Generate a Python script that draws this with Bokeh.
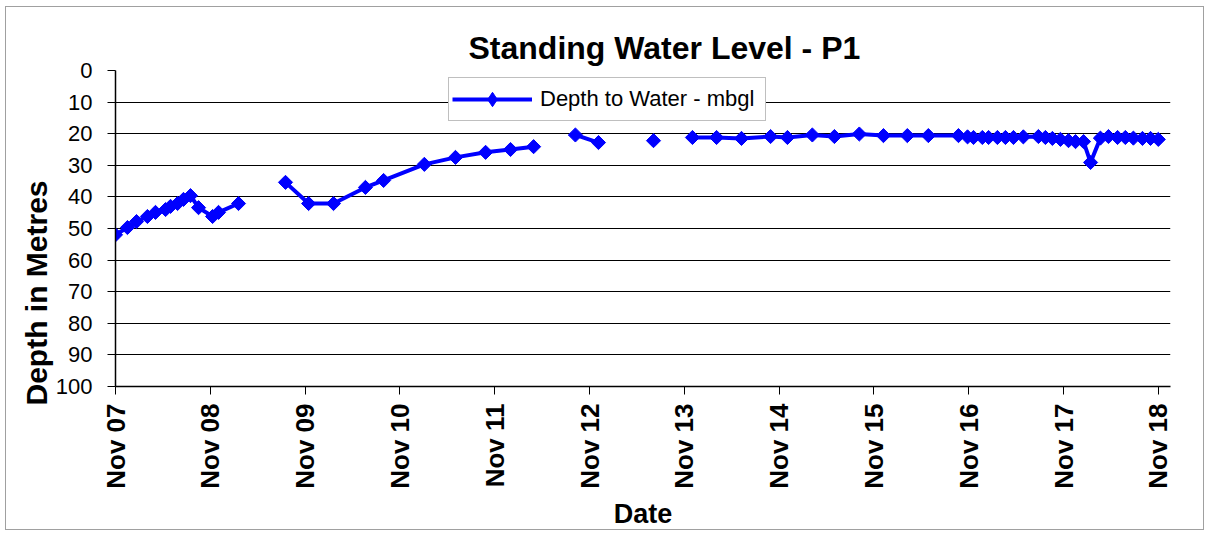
import numpy as np
import pandas as pd
from bokeh.plotting import figure
from bokeh.models import (Range1d, FixedTicker, DatetimeTickFormatter, Legend,
                          LegendItem, ColumnDataSource, Title)
from bokeh.embed import file_html
from bokeh.resources import INLINE

# ---------------- data ----------------
dates = [
    "2007-11-01", "2007-12-17", "2008-01-21", "2008-03-03", "2008-04-03",
    "2008-05-12", "2008-05-31", "2008-06-27", "2008-07-20", "2008-08-16",
    "2008-09-16", "2008-11-09", "2008-12-02", "2009-02-17",
    "2009-08-17", "2009-11-14", "2010-02-18", "2010-06-21", "2010-08-30",
    "2011-02-03", "2011-06-03", "2011-09-27", "2012-01-01", "2012-03-30",
    "2012-09-07", "2012-12-05",
    "2013-07-05",
    "2013-12-02", "2014-03-05", "2014-06-09", "2014-09-29", "2014-12-03",
    "2015-03-09", "2015-06-02", "2015-09-06", "2015-12-08", "2016-03-09",
    "2016-05-29", "2016-09-22", "2016-10-27", "2016-11-19", "2016-12-23",
    "2017-01-16", "2017-02-19", "2017-03-22", "2017-04-22", "2017-05-30",
    "2017-07-27", "2017-08-23", "2017-09-19", "2017-10-20", "2017-11-20",
    "2017-12-17", "2018-01-17", "2018-02-13", "2018-03-23", "2018-04-23",
    "2018-05-28", "2018-06-27", "2018-07-28", "2018-09-01", "2018-10-02",
    "2018-11-01",
]
depth = [
    52.0, 49.7, 47.8, 46.2, 44.9,
    44.0, 43.0, 42.1, 40.8, 39.6,
    43.4, 46.2, 44.9, 42.1,
    35.4, 42.1, 42.1, 37.0, 34.8,
    29.7, 27.5, 25.9, 25.0, 24.1,
    20.4, 22.8,
    22.2,
    21.2, 21.2, 21.5, 20.9, 21.2,
    20.4, 20.9, 20.1, 20.6, 20.6,
    20.6, 20.6, 21.0, 21.2, 21.2,
    21.2, 21.2, 21.2, 21.2, 21.0,
    20.9, 21.2, 21.5, 21.8, 22.2,
    22.5, 22.5, 29.1, 21.4, 20.9,
    21.2, 21.2, 21.4, 21.5, 21.5,
    21.8,
]
# readings after which the record has a gap (line is broken)
gap_after = ["2009-02-17", "2012-03-30", "2012-12-05", "2013-07-05"]

tick_years = list(range(2007, 2019))
y_ticks = [0, 10, 20, 30, 40, 50, 60, 70, 80, 90, 100]
series_name = "Depth to Water - mbgl"

# ---------------- build sources ----------------
x_pts = pd.to_datetime(dates)
line_x, line_y = [], []
for d, v in zip(x_pts, depth):
    line_x.append(d)
    line_y.append(v)
    if d.strftime("%Y-%m-%d") in gap_after:
        line_x.append(d)
        line_y.append(np.nan)

src_line = ColumnDataSource(dict(x=line_x, y=line_y))
src_pts = ColumnDataSource(dict(x=x_pts, y=depth))
# legend swatch source: a single undrawn (NaN) entry, only used for the key
src_key = ColumnDataSource(dict(x=[x_pts[0]], y=[np.nan]))

FONT = "Liberation Sans"

p = figure(width=1199, height=524, x_axis_type="datetime",
           x_range=Range1d(pd.Timestamp("2007-11-01"), pd.Timestamp("2018-12-18")),
           y_range=Range1d(100, 0),
           output_backend="svg", toolbar_location=None,
           min_border_left=109, min_border_right=35,
           min_border_top=63, min_border_bottom=145)
p.styles = {"border": "1px solid #a0a0a0", "margin-left": "5px", "margin-top": "6px"}
p.outline_line_color = None
p.background_fill_color = "white"

# title
p.title.text = "Standing Water Level - P1"
p.title.align = "left"
p.title.offset = 353
p.title.text_font = FONT
p.title.text_font_size = "32px"
p.title.text_font_style = "bold"
p.title.text_color = "black"
p.title.standoff = 10

# y-axis title (placed as a side title so it can sit low, as in the original)
ytitle = Title(text="Depth in Metres", align="left", offset=-19,
               text_font=FONT, text_font_size="30px", text_font_style="bold",
               text_color="black", standoff=0)
p.add_layout(ytitle, "left")

# grid
p.xgrid.visible = False
p.ygrid.grid_line_color = "black"
p.ygrid.grid_line_width = 1

# y axis
p.yaxis.ticker = FixedTicker(ticks=y_ticks)
p.yaxis.major_label_text_font = FONT
p.yaxis.major_label_text_font_size = "22px"
p.yaxis.major_label_text_color = "black"
p.yaxis.major_label_standoff = 15
p.yaxis.major_tick_in = 0
p.yaxis.major_tick_out = 8
p.yaxis.minor_tick_line_color = None
p.yaxis.axis_line_color = "black"
p.yaxis.axis_line_width = 1.5
p.yaxis.major_tick_line_color = "black"

# x axis
tick_ms = [pd.Timestamp(f"{y}-11-01").value / 1e6 for y in tick_years]
p.xaxis.ticker = FixedTicker(ticks=tick_ms)
fmt = "%b %y"
p.xaxis.formatter = DatetimeTickFormatter(
    microseconds=fmt, milliseconds=fmt, seconds=fmt, minsec=fmt, minutes=fmt,
    hourmin=fmt, hours=fmt, days=fmt, months=fmt, years=fmt)
p.xaxis.major_label_orientation = np.pi / 2
p.xaxis.axis_label = "Date"
p.xaxis.axis_label_text_font = FONT
p.xaxis.axis_label_text_font_size = "27px"
p.xaxis.axis_label_text_font_style = "bold"
p.xaxis.axis_label_text_color = "black"
p.xaxis.axis_label_standoff = 7
p.xaxis.major_label_text_font = FONT
p.xaxis.major_label_text_font_size = "26px"
p.xaxis.major_label_text_font_style = "bold"
p.xaxis.major_label_text_color = "black"
p.xaxis.major_label_standoff = 9
p.xaxis.major_tick_in = 0
p.xaxis.major_tick_out = 8
p.xaxis.minor_tick_line_color = None
p.xaxis.axis_line_color = "black"
p.xaxis.axis_line_width = 1.5
p.xaxis.major_tick_line_color = "black"

# series
r_line = p.line("x", "y", source=src_line, line_color="#0000FF", line_width=4)
r_pts = p.scatter("x", "y", source=src_pts, marker="square", angle=np.pi / 4,
                  size=10, fill_color="#0000FF", line_color="#0000FF")
r_key = p.scatter("x", "y", source=src_key, marker="diamond", size=17,
                  fill_color="#0000FF", line_color="#0000FF")

legend = Legend(items=[LegendItem(label=series_name, renderers=[r_line, r_key])],
                location=(333, 265), orientation="vertical")
legend.label_text_font = FONT
legend.label_text_font_size = "22px"
legend.label_text_color = "black"
legend.glyph_width = 80
legend.glyph_height = 36
legend.label_standoff = 8
legend.label_width = 222
legend.padding = 3
legend.spacing = 0
legend.border_line_color = "#808080"
legend.border_line_width = 1
legend.background_fill_color = "white"
legend.background_fill_alpha = 1.0
p.add_layout(legend)

open("out.html", "w").write(file_html(p, INLINE))
